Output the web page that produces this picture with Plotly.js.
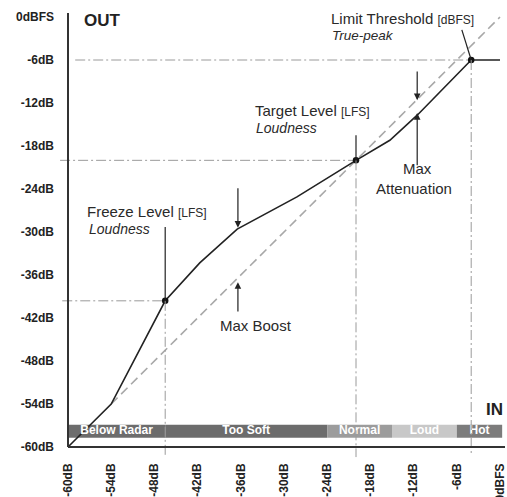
<!DOCTYPE html>
<html><head><meta charset="utf-8">
<script src="https://cdn.plot.ly/plotly-3.0.1.min.js"></script>
<style>html,body{margin:0;padding:0;background:#fff;overflow:hidden}</style>
</head><body><div id="chart" style="width:507px;height:497px"></div>
<script>
// ---- data ----
const tickValues = [-60, -54, -48, -42, -36, -30, -24, -18, -12, -6, 0];
const xTickLabels = ['-60dB', '-54dB', '-48dB', '-42dB', '-36dB', '-30dB', '-24dB', '-18dB', '-12dB', '-6dB', '0dBFS'];
const yTickLabels = ['-60dB', '-54dB', '-48dB', '-42dB', '-36dB', '-30dB', '-24dB', '-18dB', '-12dB', '-6dB', '0dBFS'];

const curveIn  = [-60, -54, -46.5, -41.7, -36.5, -28.2, -20, -15.3, -11.5, -4, 0];
const curveOut = [-60, -54, -39.6, -34.3, -29.6, -25.1, -20, -17.2, -13.7, -6, -6];

const unityIn  = [-54, 0];
const unityOut = [-54, 0];

const keyNames = ['Freeze Level', 'Target Level', 'Limit Threshold'];
const keyIn  = [-46.5, -20, -4];
const keyOut = [-39.6, -20, -6];

const zoneNames  = ['Below Radar', 'Too Soft', 'Normal', 'Loud', 'Hot'];
const zoneStart  = [-60, -46.5, -24, -15, -6];
const zoneEnd    = [-46.5, -24, -15, -6, 0.3];
const zoneColors = ['#6c6c6c', '#6c6c6c', '#9c9c9c', '#c8c8c8', '#7c7c7c'];
const zoneLevel  = -57.8;

// ---- layout constants ----
const FONT = 'Liberation Sans, Arial, Helvetica, sans-serif';
const TXT = '#2a2a2a';
const xRange = [-61.25, 0.694];
const yRange = [-61.53, 0.558];

const traces = [];

// unity (dashed diagonal)
traces.push({
  type: 'scatter', mode: 'lines',
  x: unityIn, y: unityOut,
  line: {color: '#a8a8a8', width: 1.6, dash: '9px,5px'},
  hoverinfo: 'skip', showlegend: false
});

// transfer curve
traces.push({
  type: 'scatter', mode: 'lines',
  x: curveIn, y: curveOut,
  line: {color: '#222', width: 1.6},
  hoverinfo: 'skip', showlegend: false
});

// zone bar (covers the curve)
traces.push({
  type: 'bar', orientation: 'h',
  y: zoneNames.map(() => zoneLevel),
  x: zoneStart.map((s, i) => zoneEnd[i] - s),
  base: zoneStart,
  width: 1.8,
  marker: {color: zoneColors, line: {width: 0}},
  hoverinfo: 'skip', showlegend: false
});
traces.push({
  type: 'scatter', mode: 'text',
  x: zoneStart.map((s, i) => (s + zoneEnd[i]) / 2),
  y: zoneNames.map(() => zoneLevel),
  text: zoneNames,
  textposition: 'middle center',
  textfont: {family: FONT, size: 12, color: '#ffffff', weight: 'bold'},
  hoverinfo: 'skip', showlegend: false, cliponaxis: false
});

// key points
traces.push({
  type: 'scatter', mode: 'markers',
  x: keyIn, y: keyOut, text: keyNames,
  marker: {color: '#111', size: 6.5},
  hoverinfo: 'skip', showlegend: false, cliponaxis: false
});

const refDash = '10px,3px,2px,3px';
const refStyle = {color: '#9a9a9a', width: 1, dash: refDash};
const shapes = [
  // horizontal reference lines
  {type: 'line', xref: 'x', yref: 'y', x0: -59.0, x1: keyIn[2], y0: keyOut[2], y1: keyOut[2], line: refStyle, layer: 'below'},
  {type: 'line', xref: 'x', yref: 'y', x0: -61.1, x1: keyIn[1], y0: keyOut[1], y1: keyOut[1], line: refStyle, layer: 'below'},
  {type: 'line', xref: 'x', yref: 'y', x0: -60.8, x1: keyIn[0], y0: keyOut[0], y1: keyOut[0], line: refStyle, layer: 'below'},
  // vertical reference lines
  {type: 'line', xref: 'x', yref: 'y', x0: keyIn[0], x1: keyIn[0], y0: keyOut[0], y1: -61.1, line: refStyle},
  {type: 'line', xref: 'x', yref: 'y', x0: keyIn[1], x1: keyIn[1], y0: keyOut[1], y1: -61.4, line: refStyle},
  {type: 'line', xref: 'x', yref: 'y', x0: keyIn[2], x1: keyIn[2], y0: keyOut[2], y1: -61.1, line: refStyle},
  // axes
  {type: 'line', xref: 'x', yref: 'y', x0: -60, x1: -60, y0: -60, y1: yRange[1], line: {color: '#333', width: 2}},
  {type: 'line', xref: 'x', yref: 'y', x0: -60, x1: xRange[1], y0: -60, y1: -60, line: {color: '#333', width: 2}},
  // leader lines
  {type: 'line', xref: 'x', yref: 'y', x0: keyIn[0], x1: keyIn[0], y0: -29.3, y1: keyOut[0], line: {color: '#222', width: 1.2}},
  {type: 'line', xref: 'x', yref: 'y', x0: keyIn[1], x1: keyIn[1], y0: -16.5, y1: keyOut[1], line: {color: '#222', width: 1.2}},
  {type: 'line', xref: 'x', yref: 'y', x0: -5.3, x1: keyIn[2], y0: -1.8, y1: keyOut[2], line: {color: '#222', width: 1.2}}
];

function txt(text, x, y, xanchor, size, extra) {
  return Object.assign({
    text: text, x: x, y: y, xref: 'x', yref: 'y', xanchor: xanchor, yanchor: 'middle',
    showarrow: false, font: {family: FONT, size: size, color: TXT}
  }, extra || {});
}
function arrow(x, yFrom, yTo) {
  return {x: x, y: yTo, ax: x, ay: yFrom, xref: 'x', yref: 'y', axref: 'x', ayref: 'y',
    text: '', showarrow: true, arrowhead: 2, arrowsize: 1.1, arrowwidth: 1.2, arrowcolor: '#222', standoff: 0};
}
const small = s => '<span style="font-size:12px">' + s + '</span>';

const annotations = [
  txt('<b>OUT</b>', -58.06, -0.42, 'left', 17, {font: {family: FONT, size: 17, color: '#222'}}),
  txt('<b>IN</b>', 0.69, -54.7, 'right', 17, {font: {family: FONT, size: 17, color: '#222'}}),
  txt('Limit Threshold ' + small('[dBFS]'), -23.75, -0.14, 'left', 15),
  txt('<i>True-peak</i>', -23.6, -2.65, 'left', 13.5),
  txt('Target Level ' + small('[LFS]'), -34.3, -12.98, 'left', 15),
  txt('<i>Loudness</i>', -34.2, -15.5, 'left', 14),
  txt('Freeze Level ' + small('[LFS]'), -57.6, -27.07, 'left', 15),
  txt('<i>Loudness</i>', -57.4, -29.6, 'left', 14),
  txt('Max Boost', -33.9, -42.98, 'center', 15),
  txt('Max', -11.5, -21.2, 'center', 15),
  txt('Attenuation', -11.9, -23.9, 'center', 15),
  arrow(-36.4, -23.7, -29.4),
  arrow(-36.4, -41.3, -37.0),
  arrow(-11.5, -7.4, -11.6),
  arrow(-11.5, -20.9, -13.4)
];

const axisCommon = {
  tickvals: tickValues, showgrid: false, zeroline: false, showline: false, ticks: '',
  tickfont: {family: FONT, size: 12, color: '#222', weight: 'bold'}, fixedrange: true
};

const layout = {
  width: 507, height: 497,
  margin: {l: 59, r: 2, t: 13, b: 39, pad: 0},
  paper_bgcolor: '#ffffff', plot_bgcolor: '#ffffff',
  showlegend: false, barmode: 'overlay',
  xaxis: Object.assign({}, axisCommon, {range: xRange, ticktext: xTickLabels, tickangle: -90, ticklabelstandoff: 2}),
  yaxis: Object.assign({}, axisCommon, {range: yRange, ticktext: yTickLabels, ticklabelstandoff: 4}),
  shapes: shapes, annotations: annotations
};

Plotly.newPlot('chart', traces, layout, {displayModeBar: false, staticPlot: true});
</script></body></html>
